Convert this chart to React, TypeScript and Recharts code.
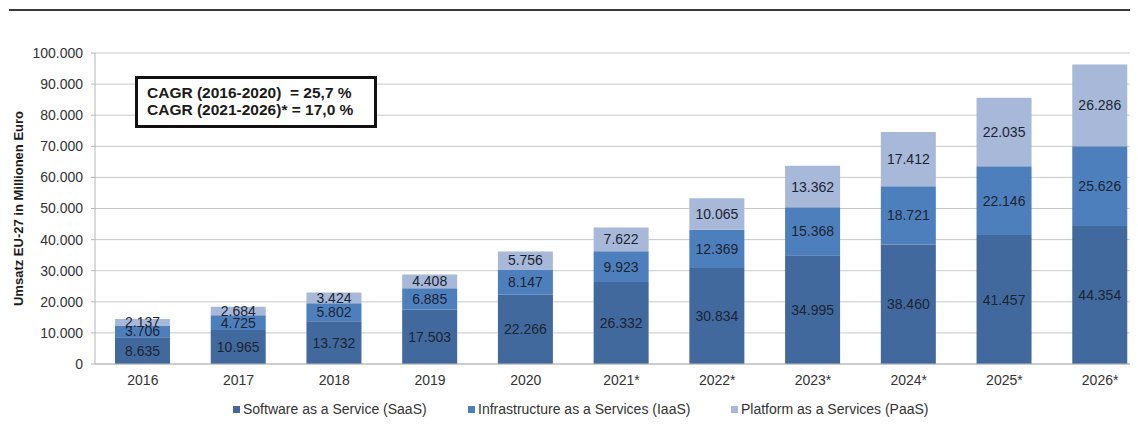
import React from "react";
import {
  BarChart,
  Bar,
  XAxis,
  YAxis,
  CartesianGrid,
  LabelList,
} from "recharts";

const YEARS = ["2016", "2017", "2018", "2019", "2020", "2021*", "2022*", "2023*", "2024*", "2025*", "2026*"];
const SAAS = [8635, 10965, 13732, 17503, 22266, 26332, 30834, 34995, 38460, 41457, 44354];
const IAAS = [3706, 4725, 5802, 6885, 8147, 9923, 12369, 15368, 18721, 22146, 25626];
const PAAS = [2137, 2684, 3424, 4408, 5756, 7622, 10065, 13362, 17412, 22035, 26286];
const Y_TICKS = [0, 10000, 20000, 30000, 40000, 50000, 60000, 70000, 80000, 90000, 100000];

const SERIES = [
  { key: "saas", name: "Software as a Service (SaaS)", color: "#41699e" },
  { key: "iaas", name: "Infrastructure as a Services (IaaS)", color: "#4e7fbd" },
  { key: "paas", name: "Platform as a Services (PaaS)", color: "#a7b8d8" },
];

const LEGEND_X = [225, 460, 723];

const FONT = "'Liberation Sans', Arial, sans-serif";

// 12345 -> "12.345"
function fmt(v: number): string {
  return String(v).replace(/\B(?=(\d{3})+(?!\d))/g, ".");
}

const data = YEARS.map((year, i) => ({
  year,
  saas: SAAS[i],
  iaas: IAAS[i],
  paas: PAAS[i],
}));

function YLabel(props: any) {
  const { viewBox } = props;
  const x = viewBox.x + 10;
  const y = viewBox.y + viewBox.height / 2;
  return (
    <text
      x={x}
      y={y}
      transform={`rotate(-90, ${x}, ${y})`}
      textAnchor="middle"
      dominantBaseline="central"
      fontFamily={FONT}
      fontSize={13}
      fontWeight="bold"
      fill="#1a1a1a"
    >
      Umsatz EU-27 in Millionen Euro
    </text>
  );
}

export default function App() {
  return (
    <div
      style={{
        position: "relative",
        width: 1130,
        height: 436,
        overflow: "hidden",
        fontFamily: FONT,
        background: "#fff",
      }}
    >
      <div
        style={{
          position: "absolute",
          left: 1,
          top: 1,
          width: 1130,
          height: 2,
          background: "#3a3a3a",
        }}
      />
      <BarChart
        width={1143}
        height={436}
        data={data}
        margin={{ top: 45, right: 3, left: 0, bottom: 50 }}
      >
        <CartesianGrid vertical={false} stroke="#c9c9c9" />
        <XAxis
          dataKey="year"
          height={30}
          tickLine={false}
          tickSize={0}
          tickMargin={11}
          axisLine={{ stroke: "#b5b5b5" }}
          tick={{ fill: "#333", fontSize: 14, fontFamily: FONT }}
        />
        <YAxis
          width={87}
          domain={[0, 100000]}
          ticks={Y_TICKS}
          tickFormatter={fmt}
          tickSize={4}
          tickMargin={8}
          tickLine={{ stroke: "#b5b5b5" }}
          axisLine={{ stroke: "#b5b5b5" }}
          tick={{ fill: "#333", fontSize: 14, fontFamily: FONT }}
          label={<YLabel />}
        />
        {SERIES.map((s) => (
          <Bar
            key={s.key}
            dataKey={s.key}
            name={s.name}
            stackId="a"
            fill={s.color}
            barSize={55}
            isAnimationActive={false}
          >
            <LabelList
              dataKey={s.key}
              position="center"
              formatter={(v: any) => fmt(Number(v))}
              fill="#1c2433"
              fontSize={14}
              fontFamily={FONT}
            />
          </Bar>
        ))}
      </BarChart>

      <div
        style={{
          position: "absolute",
          left: 127,
          top: 68,
          width: 236,
          height: 46,
          border: "3px solid #111",
          background: "#fff",
        }}
      >
        <div
          style={{
            position: "absolute",
            left: 9,
            top: 5,
            fontSize: 15.5,
            fontWeight: "bold",
            lineHeight: "17px",
            color: "#1a1a1a",
            whiteSpace: "pre",
          }}
        >
          {"CAGR (2016-2020)  = 25,7 %\nCAGR (2021-2026)* = 17,0 %"}
        </div>
      </div>

      {SERIES.map((s, i) => (
        <div
          key={s.key}
          style={{
            position: "absolute",
            left: LEGEND_X[i],
            top: 393,
            display: "flex",
            alignItems: "center",
            fontSize: 14,
            color: "#333",
            whiteSpace: "nowrap",
          }}
        >
          <span
            style={{
              display: "inline-block",
              width: 7,
              height: 7,
              background: s.color,
              marginRight: 3,
            }}
          />
          {s.name}
        </div>
      ))}
    </div>
  );
}
